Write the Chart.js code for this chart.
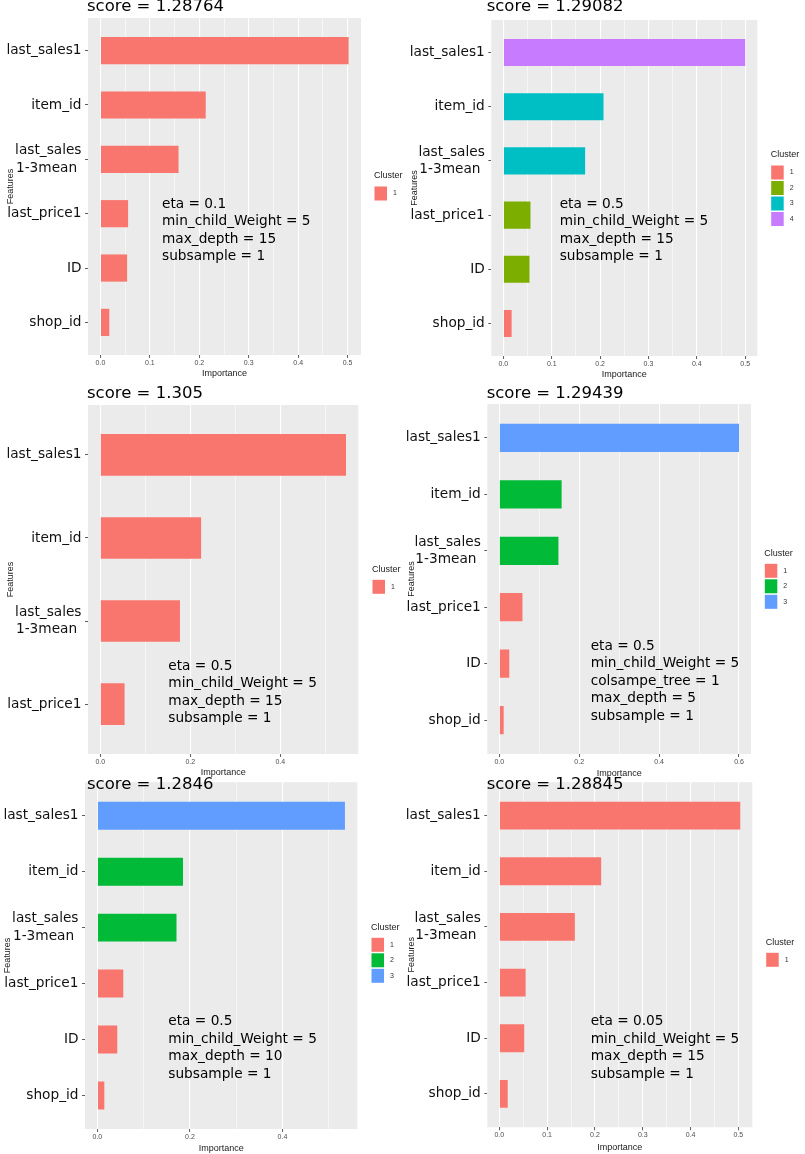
<!DOCTYPE html>
<html>
<head>
<meta charset="utf-8">
<title>xgboost importance</title>
<script src="https://cdn.jsdelivr.net/npm/chart.js@4.4.1/dist/chart.umd.min.js"></script>
<style>
  body { margin: 0; background: #fff; width: 805px; height: 1154px; position: relative; overflow: hidden; }
  canvas { position: absolute; }
</style>
</head>
<body>
<div id="wrap"></div>
<script>
// features, top to bottom
const featureLabels = ['last_sales1', 'item_id', ['last_sales', '1-3mean '], 'last_price1', 'ID', 'shop_id'];

// importance per panel + cluster of each bar
const importance1 = [0.502, 0.213, 0.158, 0.056, 0.054, 0.018];
const cluster1 = [1, 1, 1, 1, 1, 1];
const importance2 = [0.500, 0.207, 0.169, 0.056, 0.054, 0.017];
const cluster2 = [4, 3, 3, 2, 2, 1];
const importance3 = [0.546, 0.224, 0.177, 0.054];
const cluster3 = [1, 1, 1, 1];
const importance4 = [0.600, 0.156, 0.148, 0.058, 0.025, 0.011];
const cluster4 = [3, 2, 2, 1, 1, 1];
const importance5 = [0.535, 0.185, 0.171, 0.056, 0.043, 0.015];
const cluster5 = [3, 2, 2, 1, 1, 1];
const importance6 = [0.504, 0.213, 0.158, 0.055, 0.052, 0.0175];
const cluster6 = [1, 1, 1, 1, 1, 1];

// x ticks
const ticksStep01 = [0, 0.1, 0.2, 0.3, 0.4, 0.5];
const tickLabelsStep01 = ['0.0', '0.1', '0.2', '0.3', '0.4', '0.5'];
const ticksStep02 = [0, 0.2, 0.4];
const tickLabelsStep02 = ['0.0', '0.2', '0.4'];
const ticksStep02Long = [0, 0.2, 0.4, 0.6];
const tickLabelsStep02Long = ['0.0', '0.2', '0.4', '0.6'];

const scores = ['score = 1.28764', 'score = 1.29082', 'score = 1.305', 'score = 1.29439', 'score = 1.2846', 'score = 1.28845'];

const params1 = ['eta = 0.1', 'min_child_Weight = 5', 'max_depth = 15', 'subsample = 1'];
const params2 = ['eta = 0.5', 'min_child_Weight = 5', 'max_depth = 15', 'subsample = 1'];
const params3 = ['eta = 0.5', 'min_child_Weight = 5', 'max_depth = 15', 'subsample = 1'];
const params4 = ['eta = 0.5', 'min_child_Weight = 5', 'colsampe_tree = 1', 'max_depth = 5', 'subsample = 1'];
const params5 = ['eta = 0.5', 'min_child_Weight = 5', 'max_depth = 10', 'subsample = 1'];
const params6 = ['eta = 0.05', 'min_child_Weight = 5', 'max_depth = 15', 'subsample = 1'];

// ggplot hue palettes by number of clusters
const huePalettes = {
    1: ['#F8766D'],
    3: ['#F8766D', '#00BA38', '#619CFF'],
    4: ['#F8766D', '#7CAE00', '#00BFC4', '#C77CFF']
};

// where each screenshot sits on the page (page pixels)
const panels = [
    { box: [0, 0, 410, 382], area: [88, 18, 361, 355], values: importance1, clusters: cluster1, levels: 1,
      ticks: ticksStep01, tickLabels: tickLabelsStep01, title: scores[0], notes: params1,
      titleAt: [87, 7], notesAt: [162, 204], legendAt: [374, 176], featuresX: 11, importanceY: 374 },
    { box: [400, 0, 405, 382], area: [491.3, 20, 757.3, 356], values: importance2, clusters: cluster2, levels: 4,
      ticks: ticksStep01, tickLabels: tickLabelsStep01, title: scores[1], notes: params2,
      titleAt: [486.7, 7], notesAt: [559.7, 204], legendAt: [770.7, 155], featuresX: 415, importanceY: 374.7 },
    { box: [0, 380, 410, 400], area: [88, 405, 358.3, 754], values: importance3, clusters: cluster3, levels: 1,
      ticks: ticksStep02, tickLabels: tickLabelsStep02, title: scores[2], notes: params3,
      titleAt: [87, 393.3], notesAt: [168.3, 666], legendAt: [372, 569.3], featuresX: 11, importanceY: 773 },
    { box: [400, 380, 405, 400], area: [487.3, 404, 751, 754], values: importance4, clusters: cluster4, levels: 3,
      ticks: ticksStep02Long, tickLabels: tickLabelsStep02Long, title: scores[3], notes: params4,
      titleAt: [486.7, 393.3], notesAt: [590.7, 646], legendAt: [764.3, 553.3], featuresX: 412, importanceY: 774 },
    { box: [0, 770, 410, 384], area: [85, 777.3, 357.3, 1129], values: importance5, clusters: cluster5, levels: 3,
      ticks: ticksStep02, tickLabels: tickLabelsStep02, title: scores[4], notes: params5,
      titleAt: [87, 785], notesAt: [168.3, 1021.7], legendAt: [371, 927.3], featuresX: 8, importanceY: 1148.3 },
    { box: [400, 770, 405, 384], area: [487.3, 776.7, 752.3, 1127.3], values: importance6, clusters: cluster6, levels: 1,
      ticks: ticksStep01, tickLabels: tickLabelsStep01, title: scores[5], notes: params6,
      titleAt: [486.7, 785], notesAt: [590.7, 1021.7], legendAt: [765.7, 942.3], featuresX: 412, importanceY: 1147.3 }
];

const PANEL_BG = '#EBEBEB';
const TEXT_FONT = '"DejaVu Sans", sans-serif';
const AXIS_FONT = '"Liberation Sans", Arial, sans-serif';

// grey panel + all the ggplot text around the bars
function decorations(p) {
    const [bx, by] = p.box;
    return {
        id: 'decor',
        beforeDraw(chart) {
            const { ctx, chartArea: a } = chart;
            ctx.save();
            ctx.fillStyle = PANEL_BG;
            ctx.fillRect(a.left, a.top, a.right - a.left, a.bottom - a.top);
            ctx.restore();
        },
        afterDraw(chart) {
            const { ctx, chartArea: a } = chart;
            ctx.save();
            ctx.textBaseline = 'middle';

            // title
            ctx.fillStyle = '#000';
            ctx.textAlign = 'left';
            ctx.font = '16.5px ' + TEXT_FONT;
            ctx.fillText(p.title, p.titleAt[0] - bx, p.titleAt[1] - by);

            // parameters
            ctx.font = '13.7px ' + TEXT_FONT;
            p.notes.forEach((line, i) => {
                ctx.fillText(line, p.notesAt[0] - bx, p.notesAt[1] - by + i * 17.5);
            });

            // axis titles
            ctx.fillStyle = '#1a1a1a';
            ctx.font = '9px ' + AXIS_FONT;
            ctx.textAlign = 'center';
            ctx.fillText('Importance', (a.left + a.right) / 2, p.importanceY - by);
            ctx.save();
            ctx.translate(p.featuresX - bx, (a.top + a.bottom) / 2);
            ctx.rotate(-Math.PI / 2);
            ctx.fillText('Features', 0, 0);
            ctx.restore();

            // legend
            const lx = p.legendAt[0] - bx, ly = p.legendAt[1] - by;
            ctx.textAlign = 'left';
            ctx.fillText('Cluster', lx, ly);
            const pal = huePalettes[p.levels];
            ctx.font = '7px ' + AXIS_FONT;
            pal.forEach((col, k) => {
                const top = ly + 10.5 + k * 15.5;
                ctx.fillStyle = col;
                ctx.fillRect(lx + 0.5, top, 12.5, 14);
                ctx.fillStyle = '#333';
                ctx.fillText(String(k + 1), lx + 19, top + 7);
            });
            ctx.restore();
        }
    };
}

panels.forEach((p) => {
    const [bx, by, bw, bh] = p.box;
    const [L, T, R, B] = p.area;
    const canvas = document.createElement('canvas');
    canvas.width = bw;
    canvas.height = bh;
    canvas.style.left = bx + 'px';
    canvas.style.top = by + 'px';
    document.getElementById('wrap').appendChild(canvas);

    const pal = huePalettes[p.levels];
    const top = Math.max(...p.values);
    const n = p.values.length;

    // major ticks + the minor lines half way between them
    const step = p.ticks[1] - p.ticks[0];
    const gridTicks = [];
    p.ticks.forEach((v, i) => {
        gridTicks.push({ value: v, isMajor: true, lbl: p.tickLabels[i] });
        gridTicks.push({ value: v + step / 2, isMajor: false, lbl: '' });
    });

    new Chart(canvas, {
        type: 'bar',
        data: {
            datasets: [{
                data: p.values.map((v, i) => ({ x: v, y: i })),
                backgroundColor: p.clusters.map(c => pal[c - 1]),
                borderWidth: 0,
                barPercentage: 0.5,
                categoryPercentage: 1
            }]
        },
        options: {
            indexAxis: 'y',
            responsive: false,
            animation: false,
            devicePixelRatio: 1,
            layout: { padding: { left: 0, top: T - by, right: bx + bw - R, bottom: 0 } },
            plugins: { legend: { display: false }, tooltip: { enabled: false } },
            scales: {
                x: {
                    type: 'linear',
                    min: -0.05 * top,
                    max: 1.05 * top,
                    afterFit: (s) => { s.height = by + bh - B; },
                    afterBuildTicks: (s) => { s.ticks = gridTicks.filter(t => t.value <= 1.05 * top).map(t => ({ ...t })); },
                    border: { display: false },
                    grid: {
                        color: '#fff',
                        lineWidth: (ctx) => (ctx.tick && ctx.tick.isMajor ? 1.1 : 0.55),
                        drawTicks: true,
                        tickLength: 3,
                        tickWidth: 0.8,
                        tickColor: (ctx) => (ctx.tick && ctx.tick.isMajor ? '#333' : 'rgba(0,0,0,0)')
                    },
                    ticks: {
                        autoSkip: false,
                        maxRotation: 0,
                        padding: 1,
                        color: '#4D4D4D',
                        font: { family: AXIS_FONT, size: 7 },
                        callback: (v, i, ts) => ts[i].lbl
                    }
                },
                y: {
                    type: 'linear',
                    reverse: true,
                    offset: false,
                    min: -0.6,
                    max: n - 0.4,
                    afterFit: (s) => { s.width = L - bx; },
                    afterBuildTicks: (s) => { s.ticks = p.values.map((v, i) => ({ value: i })); },
                    border: { display: false },
                    grid: { offset: false, drawOnChartArea: false, drawTicks: true, tickLength: 3, tickColor: '#333', tickWidth: 0.8 },
                    ticks: {
                        autoSkip: false,
                        padding: 3.5,
                        color: '#111',
                        font: { family: TEXT_FONT, size: 13.7, lineHeight: 1.27 },
                        callback: (v) => featureLabels[v]
                    }
                }
            }
        },
        plugins: [decorations(p)]
    });
});
</script>
</body>
</html>
